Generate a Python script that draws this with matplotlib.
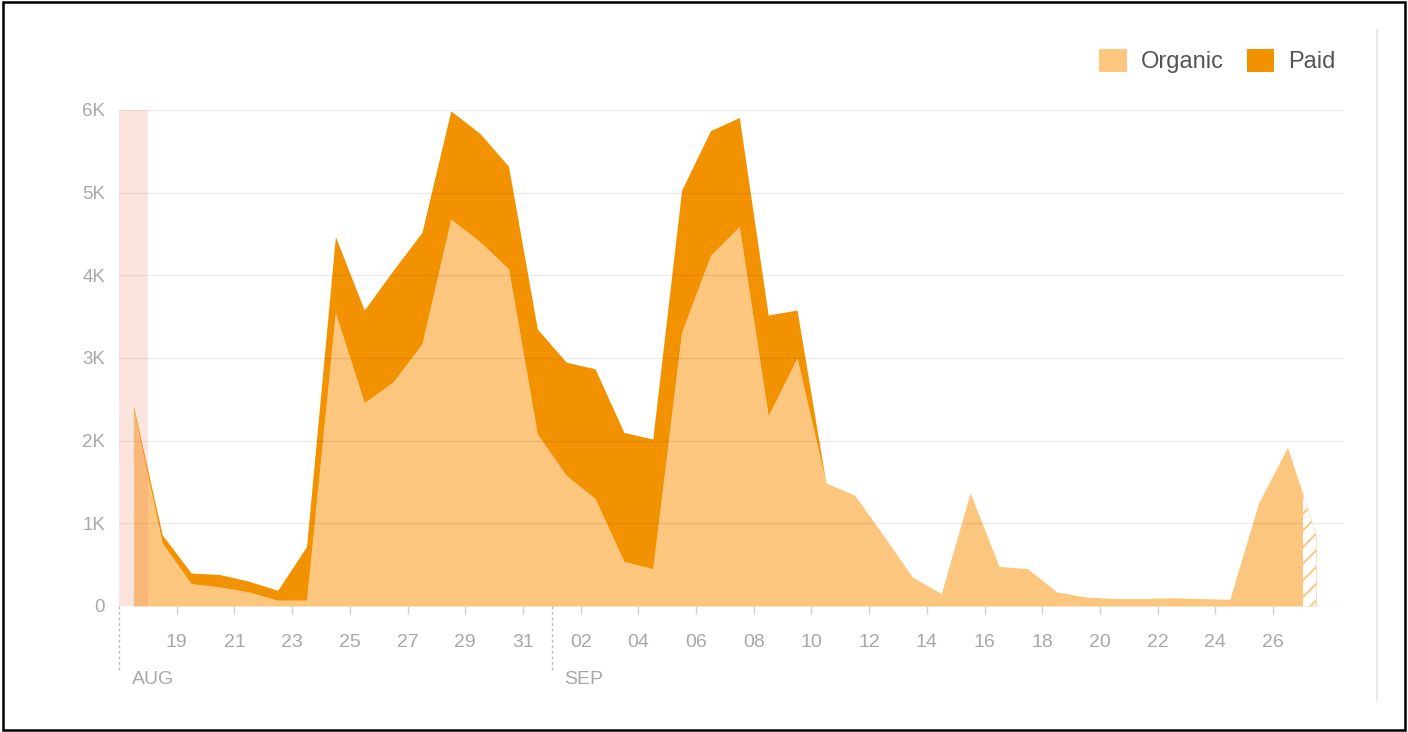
import numpy as np
import pandas as pd
import matplotlib
matplotlib.use('Agg')
import matplotlib.pyplot as plt
import matplotlib.dates as mdates
import matplotlib.transforms as mtransforms
from matplotlib.patches import Patch, Rectangle
from matplotlib.lines import Line2D

plt.rcParams['font.family'] = ['Liberation Sans', 'DejaVu Sans']
plt.rcParams['hatch.linewidth'] = 1.4

# daily visits, one value per day (drawn at noon)
days = pd.date_range('2020-08-17', '2020-09-27', freq='D') + pd.Timedelta(hours=12)
organic = [2380, 760, 270, 230, 170, 70, 70, 3550, 2460, 2710, 3170, 4680, 4410, 4080,
           2080, 1580, 1300, 540, 450, 3310, 4240, 4590, 2300, 3000, 1490, 1340, 850,
           350, 150, 1370, 480, 450, 170, 110, 90, 90, 100, 90, 80, 1250, 1920, 850]
paid = [40, 100, 130, 150, 130, 120, 650, 920, 1120, 1350, 1350, 1310, 1310, 1240,
        1270, 1370, 1570, 1560, 1570, 1720, 1510, 1320, 1220, 580, 0, 0, 0,
        0, 0, 0, 0, 0, 0, 0, 0, 0, 0, 0, 0, 0, 0, 0]

y_ticks = [0, 1000, 2000, 3000, 4000, 5000, 6000]
y_labels = ['0', '1K', '2K', '3K', '4K', '5K', '6K']
x_ticks = pd.date_range('2020-08-19', '2020-09-26', freq='2D')
x_labels = [d.strftime('%d') for d in x_ticks]
months = ['AUG', 'SEP']
month_marks = [pd.Timestamp('2020-08-17'), pd.Timestamp('2020-09-01')]

highlight = (pd.Timestamp('2020-08-17'), pd.Timestamp('2020-08-18'))
partial_from = pd.Timestamp('2020-09-27 01:00')

ORGANIC = '#fcc67f'
PAID = '#f39200'
GREY = '#a8a8a8'

organic = np.array(organic)
total = organic + np.array(paid)

fig = plt.figure(figsize=(14.08, 7.32), dpi=100)
ax = fig.add_axes([119 / 1408, 1 - 606 / 732, (1344 - 119) / 1408, (606 - 110) / 732])

org_poly = ax.fill_between(days, 0, organic, color=ORGANIC, lw=0, zorder=2)
ax.fill_between(days, organic, total, color=PAID, lw=0, zorder=2)

# last day is still incomplete -> hatched
span = ax.axvspan(partial_from, pd.Timestamp('2020-09-28'), facecolor='white',
                  edgecolor=ORGANIC, hatch='//', lw=0, zorder=3)
span.set_clip_path(org_poly.get_paths()[0], ax.transData)

ax.axvspan(*highlight, color='#f5866a', alpha=0.22, lw=0, zorder=4)

ax.set_xlim(pd.Timestamp('2020-08-17'), pd.Timestamp('2020-09-28 11:00'))
ax.set_ylim(0, 6000)

ax.set_yticks(y_ticks)
ax.set_yticklabels(y_labels)
ax.set_xticks(x_ticks)
ax.set_xticklabels(x_labels)
ax.tick_params(axis='y', length=0, pad=10, labelsize=13.5, labelcolor=GREY)
ax.tick_params(axis='x', length=6, width=1, color='#d0d0d0', pad=14,
               labelsize=14, labelcolor=GREY)
for s in ax.spines.values():
    s.set_visible(False)

ax.grid(axis='y', color='black', alpha=0.07, lw=1, zorder=5)
ax.set_axisbelow(False)

trans = mtransforms.blended_transform_factory(ax.transData, ax.transAxes)
for name, d in zip(months, month_marks):
    xd = mdates.date2num(d)
    ax.plot([xd, xd], [0, -0.133], transform=trans, color='#b8b8b8', lw=1,
            ls=(0, (2, 2)), clip_on=False)
    ax.annotate(name, xy=(xd, -0.149), xycoords=trans, xytext=(9, 0),
                textcoords='offset points', ha='left', va='center',
                fontsize=14, color=GREY)

handles = [Patch(facecolor=ORGANIC, label='Organic'), Patch(facecolor=PAID, label='Paid')]
fig.legend(handles=handles, loc='center right', bbox_to_anchor=(1336 / 1408, 1 - 61 / 732),
           ncol=2, frameon=False, fontsize=17, handlelength=1.15, handleheight=1.15,
           handletextpad=0.6, columnspacing=1.0, borderpad=0, borderaxespad=0,
           labelcolor='#555555')

fig.add_artist(Line2D([1377 / 1408] * 2, [1 - 30 / 732, 1 - 700 / 732],
                      color='#e4e4e4', lw=1.2))
fig.add_artist(Rectangle((0.002, 0.003), 0.996, 0.994, transform=fig.transFigure,
                         fill=False, ec='black', lw=1.8))

fig.savefig('out.png', dpi=100, facecolor='white')
